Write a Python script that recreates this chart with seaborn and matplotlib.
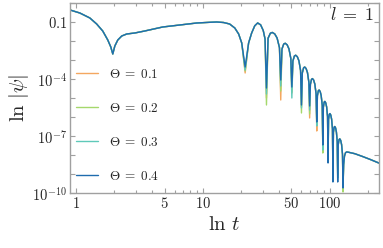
import matplotlib
matplotlib.use("Agg")
import math
import pandas as pd
import matplotlib.pyplot as plt
from matplotlib.ticker import FixedLocator, NullLocator, FuncFormatter
import seaborn as sns

# waveform samples shared by all four runs (they only differ at the bottoms of the dips)
t_shared = [0.9, 1.075, 1.29, 1.46, 1.63, 1.786, 1.887, 1.956, 2.03, 2.142, 2.30, 2.52,
            2.915, 3.49, 4.84, 6.59, 8.97, 11.36, 12.9, 14.6, 16.3, 17.9, 19.2, 20.3,
            23.0, 24.3, 25.7, 27.1, 28.6, 30.0, 31.0,
            32.74, 34.15, 35.37, 36.97, 38.57, 40.26,
            42.12, 43.5, 44.7, 46.26, 47.82, 49.48,
            51.36, 52.8, 54.05, 55.68, 57.31, 59.04,
            60.96, 62.4, 63.65, 65.28, 66.91, 68.64,
            70.56, 72.0, 73.25, 74.88, 76.51, 78.24,
            80.12, 81.5, 82.7, 84.26, 85.82, 87.48,
            89.28, 90.6, 91.74, 93.24, 94.74, 96.32,
            98.1, 99.45, 100.62, 102.15, 103.68, 105.3,
            107.16, 108.6, 109.85, 111.48, 113.11, 114.84,
            116.97, 118.73, 120.25, 122.24, 124.22, 126.33,
            129.0, 131.0, 133.5, 136.5, 142.0, 158.0, 182.0, 210.0, 250.0]
psi_shared = [0.43, 0.298, 0.163, 0.0785, 0.0336, 0.0113, 4.83e-3, 2.07e-3, 5.46e-3, 0.0113, 0.0183, 0.0234,
              0.0264, 0.0336, 0.0546, 0.0695, 0.0886, 0.0964, 0.100, 0.094, 0.0785, 0.0483, 0.0233, 7.85e-3,
              7.9e-3, 0.0263, 0.063, 0.089, 0.071, 0.0355, 0.0126,
              0.0140, 0.0258, 0.0282, 0.0234, 0.0143, 4.44e-3,
              3.78e-3, 6.95e-3, 7.59e-3, 6.31e-3, 3.85e-3, 1.19e-3,
              8.85e-4, 1.63e-3, 1.78e-3, 1.48e-3, 9.04e-4, 2.80e-4,
              2.12e-4, 3.91e-4, 4.27e-4, 3.55e-4, 2.17e-4, 6.71e-5,
              5.21e-5, 9.59e-5, 1.05e-4, 8.71e-5, 5.32e-5, 1.65e-5,
              1.31e-5, 2.41e-5, 2.63e-5, 2.19e-5, 1.34e-5, 4.14e-6,
              3.29e-6, 6.05e-6, 6.61e-6, 5.50e-6, 3.36e-6, 1.04e-6,
              7.53e-7, 1.39e-6, 1.51e-6, 1.26e-6, 7.69e-7, 2.38e-7,
              1.57e-7, 2.90e-7, 3.16e-7, 2.63e-7, 1.61e-7, 4.98e-8,
              3.52e-8, 6.49e-8, 7.08e-8, 5.89e-8, 3.60e-8, 1.11e-8,
              3.16e-9, 8.91e-9, 1.32e-8, 1.45e-8, 1.38e-8, 1.17e-8, 8.32e-9, 5.75e-9, 3.55e-9]

# bottoms of the dips, one list per theta
t_dip = [21.6, 31.8, 41.2, 50.4, 60.0, 69.6, 79.2, 88.4, 97.2, 106.2, 115.8, 127.5]
psi_dip_01 = [2.07e-4, 1.0e-5, 7.85e-6, 1.83e-5, 3.36e-6, 8.91e-7, 1.83e-7, 2.33e-8, 1.0e-8, 1.63e-9, 1.0e-9, 2.33e-10]
psi_dip_02 = [2.64e-4, 4.29e-6, 2.33e-5, 2.07e-5, 1.63e-6, 1.45e-6, 4.29e-7, 1.27e-8, 7.85e-9, 1.27e-9, 8.85e-10, 1.13e-10]
psi_dip_03 = [2.98e-4, 1.63e-5, 4.29e-5, 1.0e-5, 2.98e-6, 2.34e-6, 3.36e-7, 1.83e-8, 5.46e-9, 7.85e-10, 6.15e-10, 2.64e-10]
psi_dip_04 = [4.29e-4, 3.36e-5, 8.85e-5, 3.79e-5, 4.29e-6, 3.80e-6, 5.46e-7, 3.36e-8, 3.79e-9, 3.79e-10, 3.79e-10, 1.83e-10]

thetas = ["0.1", "0.2", "0.3", "0.4"]
colors = ["#f4a760", "#a5d86c", "#5fc9b9", "#1f6cae"]

frames = []
for theta, dips in zip(thetas, [psi_dip_01, psi_dip_02, psi_dip_03, psi_dip_04]):
    part = pd.DataFrame({"t": t_shared + t_dip, "psi": psi_shared + dips})
    part["theta"] = r"$\Theta\;=\;" + theta + "$"
    frames.append(part.sort_values("t"))
df = pd.concat(frames, ignore_index=True)

sns.set_style("ticks")
plt.rcParams["mathtext.fontset"] = "cm"
plt.rcParams["font.family"] = ["DejaVu Serif"]

fig = plt.figure(figsize=(3.83, 2.48), dpi=100)
ax = fig.add_axes([70 / 383, 1 - 193 / 248, 309 / 383, 190 / 248])
ax.set_xscale("log")
ax.set_yscale("log")

sns.lineplot(data=df, x="t", y="psi", hue="theta", palette=colors, estimator=None,
             sort=False, linewidth=1.0, ax=ax)

ax.set_xlim(0.9, 245)
ax.set_ylim(1e-10, 1)

grey = "#a0a0a0"
for sp in ax.spines.values():
    sp.set_color(grey)
    sp.set_linewidth(1.0)

ax.xaxis.set_major_locator(FixedLocator([1, 5, 10, 50, 100]))
ax.xaxis.set_major_formatter(FuncFormatter(lambda v, p: r"$%d$" % round(v)))
ax.xaxis.set_minor_locator(FixedLocator([2, 3, 4, 6, 7, 8, 9, 20, 30, 40, 60, 70, 80, 90, 200]))
ax.yaxis.set_major_locator(FixedLocator([10.0 ** k for k in range(-10, 1)]))
ylabels = {-1: r"$0.1$", -4: r"$10^{-4}$", -7: r"$10^{-7}$", -10: r"$10^{-10}$"}


def yfmt(v, p):
    k = int(round(math.log10(v)))
    return ylabels.get(k, "")


ax.yaxis.set_major_formatter(FuncFormatter(yfmt))
ax.yaxis.set_minor_locator(NullLocator())
ax.tick_params(which="both", direction="in", top=True, right=True, color=grey, width=0.8,
               labelsize=10.5, pad=2)
ax.tick_params(which="major", length=3.5)
ax.tick_params(which="minor", length=2)

ax.set_xlabel(r"$\ln\,t$", fontsize=15, labelpad=3)
ax.set_ylabel(r"$\ln\,|\psi|$", fontsize=15, labelpad=1)
ax.text(0.985, 0.985, r"$l\;=\;1$", transform=ax.transAxes, ha="right", va="top", fontsize=13)

handles, labels = ax.get_legend_handles_labels()
ax.legend(handles, labels, loc="upper left", bbox_to_anchor=(0.019, 0.66), frameon=False,
          borderpad=0, borderaxespad=0, labelspacing=1.6, handlelength=1.7,
          handletextpad=0.8, fontsize=9.5)

fig.savefig("out.png", dpi=100)
